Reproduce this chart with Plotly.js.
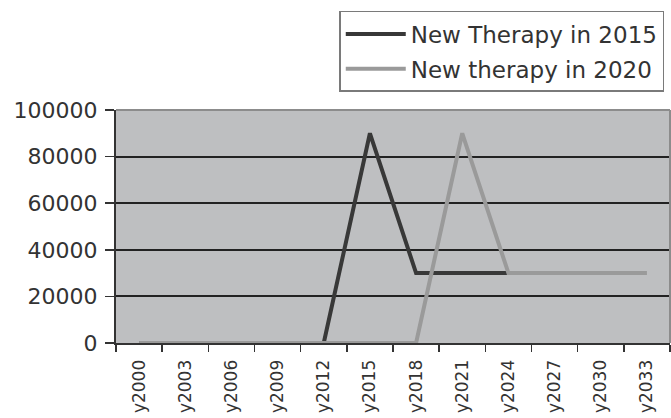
<!DOCTYPE html>
<html>
<head>
<meta charset="utf-8">
<script src="https://cdn.plot.ly/plotly-3.0.1.min.js"></script>
<style>
  html, body { margin: 0; padding: 0; background: #ffffff; }
  #chart { width: 671px; height: 418px; }
</style>
</head>
<body>
<div id="chart"></div>
<script>
// Categories (x axis tick labels)
const years = ['y2000', 'y2003', 'y2006', 'y2009', 'y2012', 'y2015',
               'y2018', 'y2021', 'y2024', 'y2027', 'y2030', 'y2033'];

// Series values
const therapy2015 = [0, 0, 0, 0, 0, 90000, 30000, 30000, 30000, null, null, null];
const therapy2020 = [0, 0, 0, 0, 0, 0, 0, 90000, 30000, 30000, 30000, 30000];

// Series names
const name2015 = 'New Therapy in 2015';
const name2020 = 'New therapy in 2020';

// Y tick values
const yTicks = [0, 20000, 40000, 60000, 80000, 100000];

const FONT = 'DejaVu Sans, Arial, sans-serif';
const TEXT = '#333333';

const traces = [
  {
    x: years, y: therapy2015, name: name2015, type: 'scatter', mode: 'lines',
    line: { color: '#383838', width: 4 }, legendgroup: 'a', connectgaps: false
  },
  {
    x: years, y: therapy2020, name: name2020, type: 'scatter', mode: 'lines',
    line: { color: '#9a9a9a', width: 4 }, legendgroup: 'b'
  }
];

const layout = {
  width: 671, height: 418,
  margin: { l: 116, r: 1, t: 110, b: 75, pad: 0 },
  paper_bgcolor: '#ffffff',
  plot_bgcolor: '#bebfc1',
  showlegend: true,
  legend: {
    x: 0.403, xanchor: 'left', y: 1.425, yanchor: 'top',
    bgcolor: '#ffffff', bordercolor: '#7a7a7a', borderwidth: 1.5,
    font: { family: FONT, size: 23, color: TEXT },
    tracegroupgap: 2, itemwidth: 60
  },
  xaxis: {
    type: 'category', categoryorder: 'array', categoryarray: years,
    range: [-0.5, 11.5],
    showline: true, linecolor: '#333333', linewidth: 2,
    ticks: 'outside', tickson: 'boundaries', ticklen: 7, tickwidth: 1.5, tickcolor: '#333333',
    tickangle: -90, ticklabelstandoff: 8,
    tickfont: { family: FONT, size: 17, color: TEXT },
    showgrid: false, zeroline: false, layer: 'below traces', fixedrange: true
  },
  yaxis: {
    range: [0, 100000], tickvals: yTicks, tickformat: 'd',
    showline: true, linecolor: '#333333', linewidth: 2,
    ticks: 'outside', ticklen: 9, tickwidth: 1.5, tickcolor: '#333333',
    ticklabelstandoff: 3,
    tickfont: { family: FONT, size: 22, color: TEXT },
    showgrid: true, gridcolor: '#222222', gridwidth: 2,
    zeroline: false, layer: 'below traces', fixedrange: true
  },
  shapes: [
    { type: 'line', xref: 'paper', yref: 'paper', x0: 0, x1: 1, y0: 1, y1: 1,
      line: { color: '#8c8c8c', width: 2 }, layer: 'above' },
    { type: 'line', xref: 'paper', yref: 'paper', x0: 1, x1: 1, y0: 0, y1: 1,
      line: { color: '#8c8c8c', width: 2 }, layer: 'above' }
  ]
};

Plotly.newPlot('chart', traces, layout, { displayModeBar: false, staticPlot: true });
</script>
</body>
</html>
